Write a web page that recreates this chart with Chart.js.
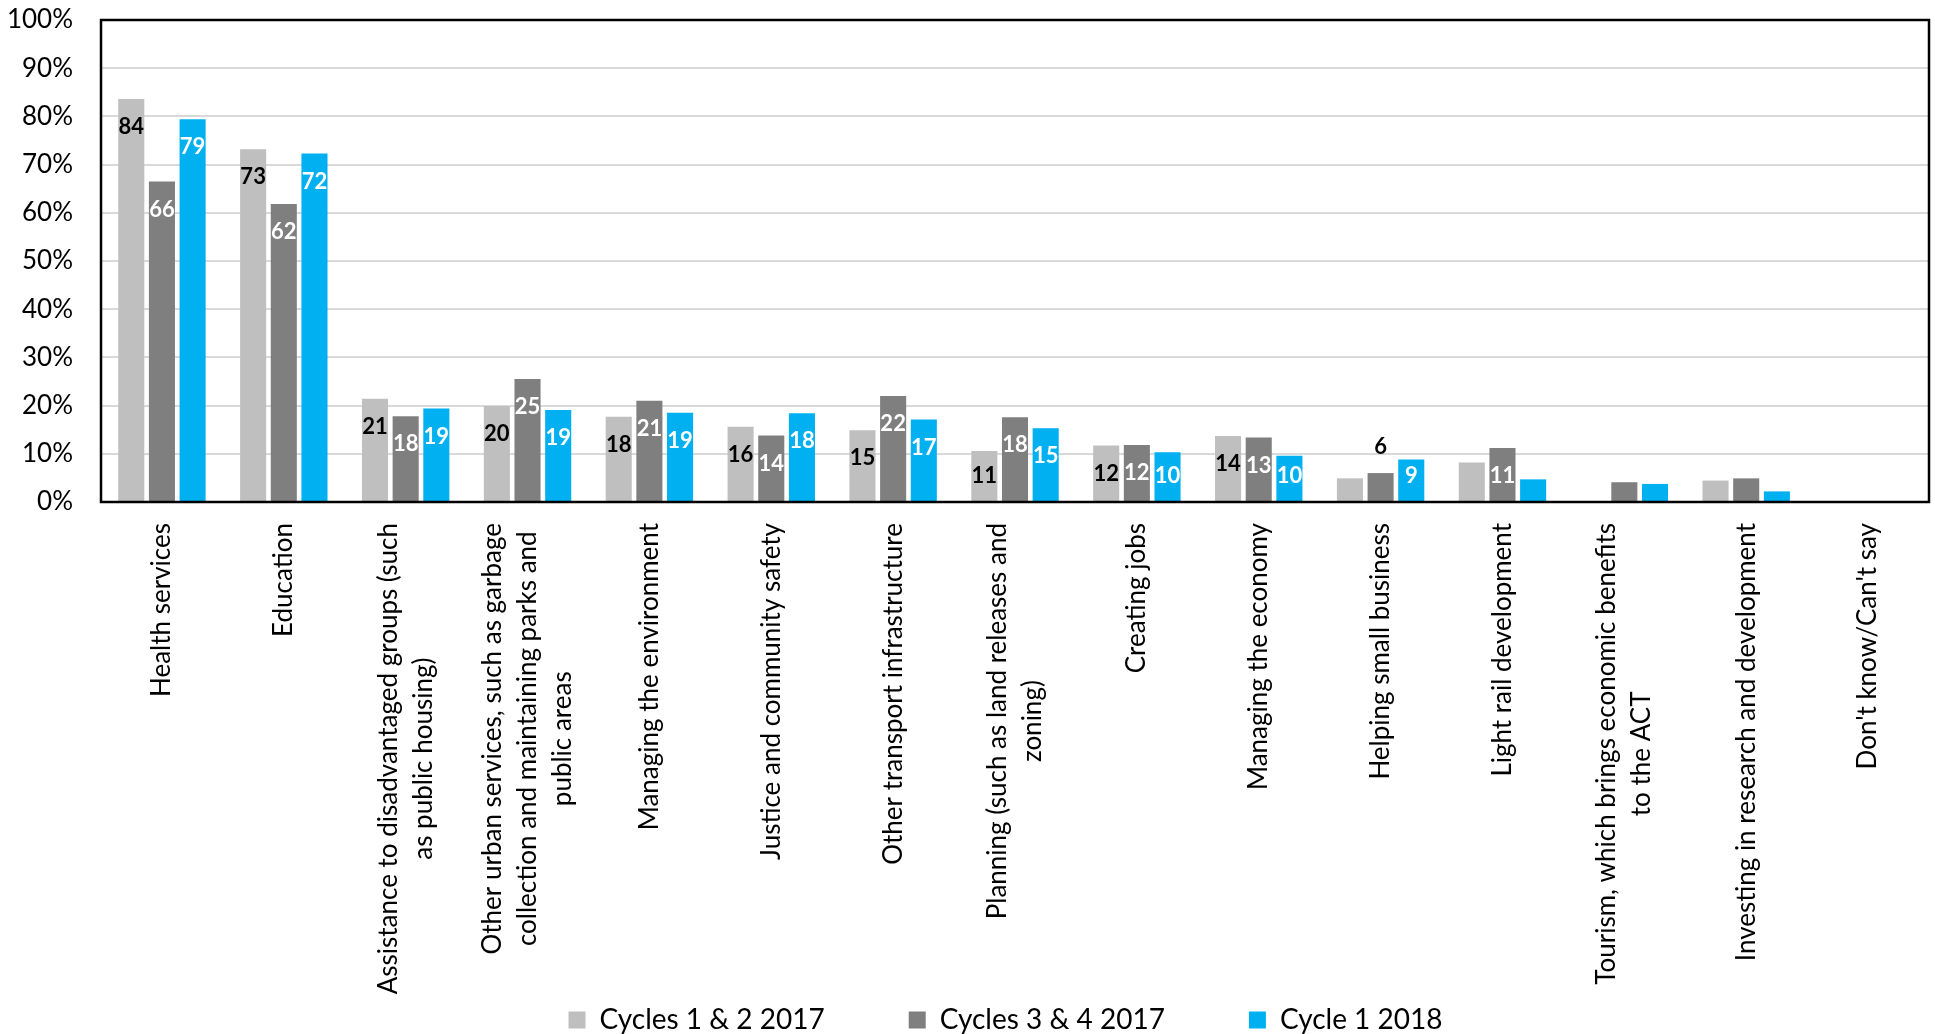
<!DOCTYPE html>
<html>
<head>
<meta charset="utf-8">
<script src="https://cdn.jsdelivr.net/npm/chart.js@4.4.1/dist/chart.umd.min.js"></script>
<style>
html, body { margin: 0; padding: 0; background: #fff; }
#wrap { width: 1935px; height: 1034px; }
</style>
</head>
<body>
<div id="wrap"><canvas id="grafico" width="1935" height="1034"></canvas></div>
<script>
const categorias = [
    "Health services",
    "Education",
    ["Assistance to disadvantaged groups (such", "as public housing)"],
    ["Other urban services, such as garbage", "collection and maintaining parks and", "public areas"],
    "Managing the environment",
    "Justice and community safety",
    "Other transport infrastructure",
    ["Planning (such as land releases and", "zoning)"],
    "Creating jobs",
    "Managing the economy",
    "Helping small business",
    "Light rail development",
    ["Tourism, which brings economic benefits", "to the ACT"],
    "Investing in research and development",
    "Don't know/Can't say"
];

const series = ["Cycles 1 & 2 2017", "Cycles 3 & 4 2017", "Cycle 1 2018"];

const cycles12 = [83.6, 73.2, 21.4, 19.9, 17.7, 15.6, 14.9, 10.6, 11.7, 13.7, 4.9, 8.2, 0, 4.45, 0];
const cycles34 = [66.5, 61.8, 17.8, 25.5, 21.0, 13.8, 22.0, 17.6, 11.8, 13.4, 6.0, 11.2, 4.1, 4.9, 0];
const cycle18 = [79.4, 72.3, 19.4, 19.1, 18.5, 18.4, 17.1, 15.3, 10.3, 9.6, 8.8, 4.7, 3.75, 2.2, 0];

const etiq12 = ["84", "73", "21", "20", "18", "16", "15", "11", "12", "14", null, null, null, null, null];
const etiq34 = ["66", "62", "18", "25", "21", "14", "22", "18", "12", "13", "6", "11", null, null, null];
const etiq18 = ["79", "72", "19", "19", "19", "18", "17", "15", "10", "10", "9", null, null, null, null];

const yTicks = [0, 10, 20, 30, 40, 50, 60, 70, 80, 90, 100];

const colores = ["#BFBFBF", "#7F7F7F", "#00B0F0"];
const colorEtiqueta = ["#000000", "#FFFFFF", "#FFFFFF"];
const etiquetas = [etiq12, etiq34, etiq18];
// labels that sit above the bar instead of inside it: [dataset, index]
const encima = [[1, 10]];

Chart.defaults.font.family = "Lato";
Chart.defaults.color = "#000";

const etiquetasPlugin = {
    id: "etiquetas",
    afterDatasetsDraw(chart) {
        const ctx = chart.ctx;
        ctx.save();
        ctx.font = "bold 22px Lato";
        ctx.textAlign = "center";
        ctx.textBaseline = "middle";
        chart.data.datasets.forEach((ds, d) => {
            const meta = chart.getDatasetMeta(d);
            meta.data.forEach((bar, i) => {
                const txt = etiquetas[d][i];
                if (!txt) return;
                const arriba = encima.some(p => p[0] === d && p[1] === i);
                let y = Math.min(bar.y + 28, bar.base - 25);
                if (arriba) y = bar.y - 26;
                ctx.fillStyle = arriba ? "#000000" : colorEtiqueta[d];
                ctx.fillText(txt, bar.x, y);
            });
        });
        ctx.restore();
    }
};

const xLabelsPlugin = {
    id: "xLabels",
    afterDraw(chart) {
        const ctx = chart.ctx;
        const xScale = chart.scales.x;
        const area = chart.chartArea;
        ctx.save();
        ctx.font = "26px Lato";
        ctx.fillStyle = "#000";
        ctx.textAlign = "center";
        ctx.textBaseline = "middle";
        categorias.forEach((cat, i) => {
            const lines = Array.isArray(cat) ? cat : [cat];
            const maxW = Math.max(...lines.map(l => ctx.measureText(l).width));
            const x = xScale.getPixelForValue(i);
            lines.forEach((line, j) => {
                const offset = (j - (lines.length - 1) / 2) * 35;
                ctx.save();
                ctx.translate(x + offset, area.bottom + 21 + maxW / 2);
                ctx.rotate(-Math.PI / 2);
                ctx.fillText(line, 0, 0);
                ctx.restore();
            });
        });
        ctx.restore();
    }
};

const marcoPlugin = {
    id: "marco",
    afterDatasetsDraw(chart) {
        const {ctx, chartArea} = chart;
        ctx.save();
        ctx.strokeStyle = "#000";
        ctx.lineWidth = 2.5;
        ctx.strokeRect(chartArea.left, chartArea.top, chartArea.right - chartArea.left, chartArea.bottom - chartArea.top);
        ctx.restore();
    }
};

// legend sits a little right of centre in the original
const leyendaPlugin = {
    id: "leyendaDesplazada",
    afterLayout(chart) {
        chart.legend.left += 41;
        chart.legend.right += 41;
    }
};

const data = {
    labels: categorias,
    datasets: [cycles12, cycles34, cycle18].map((vals, d) => ({
        label: series[d],
        data: vals,
        backgroundColor: colores[d],
        borderWidth: 0,
        categoryPercentage: 0.755,
        barPercentage: 0.85
    }))
};

const config = {
    type: "bar",
    data: data,
    options: {
        responsive: false,
        animation: false,
        layout: { padding: { top: 20, right: 6, left: 0, bottom: -10 } },
        scales: {
            x: {
                grid: { display: false, drawTicks: false },
                border: { display: false },
                ticks: { display: false },
                afterFit: (scale) => { scale.height = 420; }
            },
            y: {
                min: 0,
                max: 100,
                afterBuildTicks: (scale) => { scale.ticks = yTicks.map(v => ({ value: v })); },
                grid: { color: "#D9D9D9", lineWidth: 2, drawTicks: false },
                border: { display: false },
                ticks: {
                    padding: 28,
                    font: { size: 26 },
                    color: "#000",
                    callback: (v) => v + "%"
                },
                afterFit: (scale) => {
                    scale.width = 101;
                    scale.paddingTop = 0;
                    scale.paddingBottom = 0;
                }
            }
        },
        plugins: {
            legend: {
                position: "bottom",
                labels: {
                    boxWidth: 17,
                    boxHeight: 17,
                    padding: 84,
                    font: { size: 28 },
                    color: "#000"
                }
            },
            tooltip: { enabled: false }
        }
    },
    plugins: [marcoPlugin, etiquetasPlugin, xLabelsPlugin, leyendaPlugin]
};

const canvas = document.getElementById("grafico");
const myChart = new Chart(canvas, config);
</script>
</body>
</html>
